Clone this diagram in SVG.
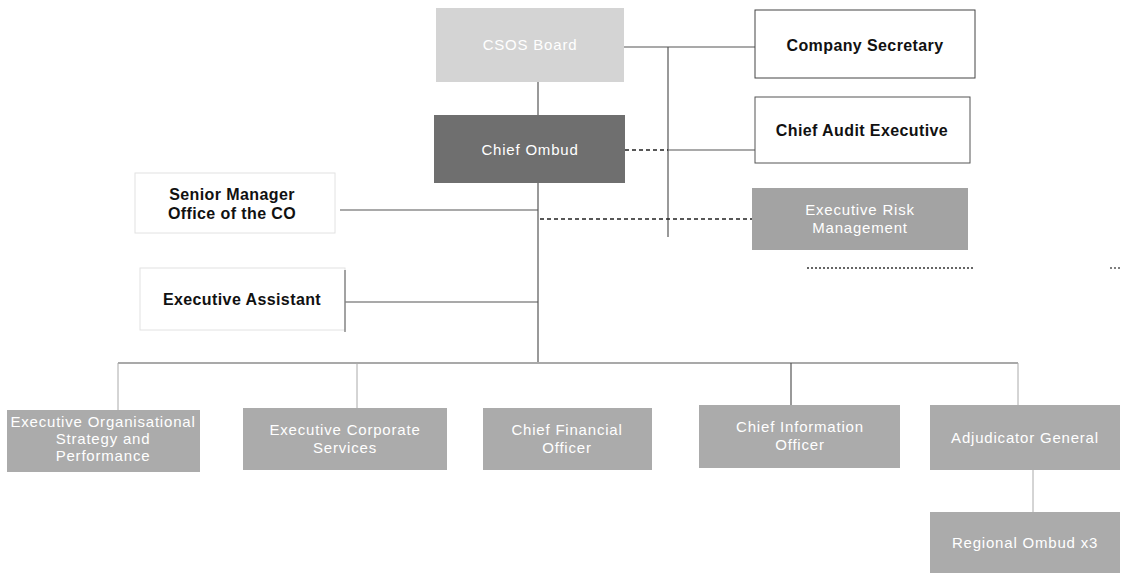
<svg xmlns="http://www.w3.org/2000/svg" width="1126" height="575" viewBox="0 0 1126 575">
<style>
.w{fill:#ffffff;stroke:#e2e2e2;stroke-width:1}
.g{fill:#ababab}
.bt{font-family:"Liberation Sans",Arial,sans-serif;font-size:16px;font-weight:bold;fill:#111;text-anchor:middle;letter-spacing:0.4px}
.wt{font-family:"Liberation Sans",Arial,sans-serif;font-size:15px;fill:#ffffff;text-anchor:middle;letter-spacing:0.8px}
.c{stroke:#555;stroke-width:1.2;fill:none}
.cl{stroke:#aaa;stroke-width:1;fill:none}
.d{stroke:#222;stroke-width:1.3;stroke-dasharray:4 3;fill:none}
</style>
<rect width="1126" height="575" fill="#ffffff"/>
<g id="connectors">
<line class="c" x1="624" y1="47" x2="755" y2="47"/>
<line class="c" x1="668" y1="47" x2="668" y2="237"/>
<line class="c" x1="538" y1="82" x2="538" y2="115"/>
<line class="d" x1="625" y1="150" x2="668" y2="150"/>
<line class="c" x1="668" y1="150" x2="755" y2="150"/>
<line class="c" x1="538" y1="183" x2="538" y2="362"/>
<line class="c" x1="340" y1="210" x2="538" y2="210"/>
<line class="d" x1="540" y1="219" x2="752" y2="219"/>
<line class="c" x1="345" y1="302" x2="538" y2="302"/>
<line class="c" x1="118" y1="363" x2="1018" y2="363"/>
<line class="cl" x1="118" y1="363" x2="118" y2="410"/>
<line class="cl" x1="357" y1="363" x2="357" y2="408"/>
<line class="c" x1="791" y1="363" x2="791" y2="405"/>
<line class="cl" x1="1018" y1="363" x2="1018" y2="405"/>
<line class="cl" x1="1033" y1="470" x2="1033" y2="512"/>
<line stroke="#333" stroke-width="1.3" stroke-dasharray="2 2" x1="807" y1="268" x2="973" y2="268"/>
<line stroke="#555" stroke-width="1.3" stroke-dasharray="2 2" x1="1110" y1="268" x2="1120" y2="268"/>
</g>
<g id="csos-board"><rect x="436" y="8" width="188" height="74" fill="#d4d4d4"/><text class="wt" x="530" y="50">CSOS Board</text></g>
<g id="chief-ombud"><rect x="434" y="115" width="191" height="68" fill="#6f6f6f"/><text class="wt" x="530" y="155" font-size="16">Chief Ombud</text></g>
<g id="company-secretary"><rect x="755" y="10" width="220" height="68" fill="#fff" stroke="#444" stroke-width="1"/><text class="bt" x="865" y="51">Company Secretary</text></g>
<g id="chief-audit-executive"><rect x="755" y="97" width="215" height="66" fill="#fff" stroke="#555" stroke-width="1"/><text class="bt" x="862" y="136">Chief Audit Executive</text></g>
<g id="executive-risk-management"><rect x="752" y="188" width="216" height="62" fill="#a3a3a3"/><text class="wt" x="860" y="215">Executive Risk</text><text class="wt" x="860" y="233">Management</text></g>
<g id="senior-manager"><rect class="w" x="135" y="173" width="200" height="60"/><text class="bt" x="232" y="200">Senior Manager</text><text class="bt" x="232" y="219">Office of the CO</text></g>
<g id="executive-assistant"><rect class="w" x="140" y="268" width="205" height="62"/><line x1="345" y1="270" x2="345" y2="332" stroke="#555"/><text class="bt" x="242" y="305">Executive Assistant</text></g>
<g id="exec-org-strategy"><rect class="g" x="7" y="410" width="193" height="62"/><text class="wt" x="103" y="427" letter-spacing="0.3">Executive Organisational</text><text class="wt" x="103" y="444">Strategy and</text><text class="wt" x="103" y="461">Performance</text></g>
<g id="exec-corporate-services"><rect class="g" x="243" y="408" width="204" height="62"/><text class="wt" x="345" y="435">Executive Corporate</text><text class="wt" x="345" y="453">Services</text></g>
<g id="cfo"><rect class="g" x="483" y="408" width="169" height="62"/><text class="wt" x="567" y="435">Chief Financial</text><text class="wt" x="567" y="453">Officer</text></g>
<g id="cio"><rect class="g" x="699" y="405" width="201" height="63"/><text class="wt" x="800" y="432">Chief Information</text><text class="wt" x="800" y="450">Officer</text></g>
<g id="adjudicator-general"><rect class="g" x="930" y="405" width="190" height="65"/><text class="wt" x="1025" y="443">Adjudicator General</text></g>
<g id="regional-ombud"><rect class="g" x="930" y="512" width="190" height="61"/><text class="wt" x="1025" y="548">Regional Ombud x3</text></g>
</svg>
